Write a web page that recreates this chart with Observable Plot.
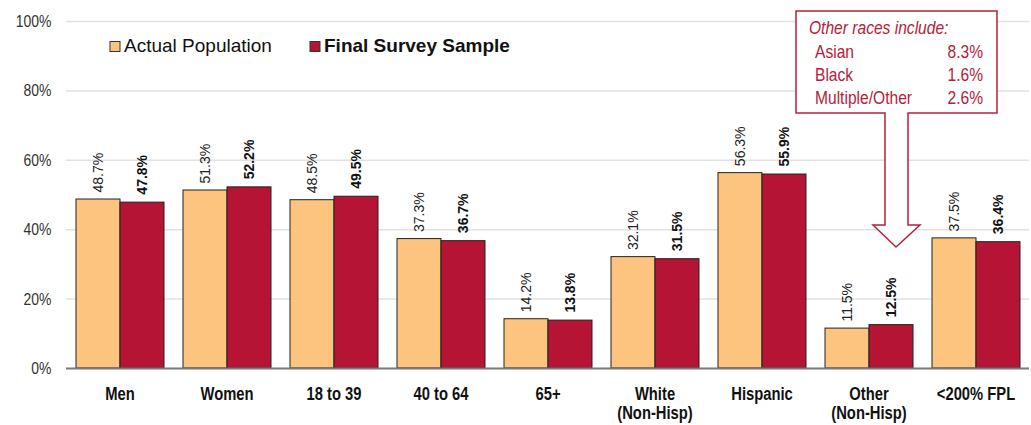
<!DOCTYPE html>
<html><head><meta charset="utf-8">
<script src="https://cdn.jsdelivr.net/npm/d3@7"></script>
<script src="https://cdn.jsdelivr.net/npm/@observablehq/plot@0.6"></script>
<style>
body{margin:0;background:#fff;}
#wrap{position:relative;width:1031px;height:425px;}
#overlay{position:absolute;left:0;top:0;pointer-events:none;}
</style></head>
<body><div id="wrap"></div>
<script>
const categories = ["Men","Women","18 to 39","40 to 64","65+","White\n(Non-Hisp)","Hispanic","Other\n(Non-Hisp)","<200% FPL"];
const series = ["Actual Population","Final Survey Sample"];
const actualPopulation = [48.7,51.3,48.5,37.3,14.2,32.1,56.3,11.5,37.5];
const finalSurveySample = [47.8,52.2,49.5,36.7,13.8,31.5,55.9,12.5,36.4];
const yTicks = [0,0.2,0.4,0.6,0.8,1];
const otherRaces = ["Asian","Black","Multiple/Other"];
const otherRaceShares = [8.3,1.6,2.6];
const colors = ["#fcc47f","#b51434"];

const rows = categories.flatMap((c,i)=>[
  {cat:c, series:series[0], value:actualPopulation[i]/100},
  {cat:c, series:series[1], value:finalSurveySample[i]/100}
]);

const SANS = '"Liberation Sans",Arial,sans-serif';
const NARROW = '"Liberation Sans Narrow","Arial Narrow","Liberation Sans",Arial,sans-serif';
const NARROW_SCALE = 0.82; // emulate Arial Narrow by condensing Liberation Sans glyphs
const pct = d => (d.value*100).toFixed(1)+"%";

const chart = Plot.plot({
  width:1031, height:425, marginLeft:64, marginRight:0, marginTop:21, marginBottom:57,
  fx:{domain:categories, padding:0, label:null},
  x:{domain:series, paddingInner:0, paddingOuter:0.207, axis:null},
  y:{domain:[0,1], label:null},
  color:{domain:series, range:colors},
  style:{fontFamily:NARROW, background:"#fff", color:"#222", overflow:"visible"},
  marks:[
    Plot.gridY(yTicks,{stroke:"#e2e2e2", strokeOpacity:1, strokeWidth:1.5}),
    Plot.axisY(yTicks,{tickSize:0, tickPadding:15, tickFormat:d=>Math.round(d*100)+"%", fontSize:17, fill:"#333", label:null}),
    Plot.barY(rows,{fx:"cat", x:"series", y:"value", fill:"series", stroke:"#222", strokeWidth:1}),
    Plot.ruleY([0],{stroke:"#7a7a7a", strokeWidth:2}),
    Plot.text(rows,{filter:d=>d.series===series[0], fx:"cat", x:"series", y:"value", text:pct, rotate:-90, textAnchor:"start", dy:-7, fontSize:14, fill:"#222"}),
    Plot.text(rows,{filter:d=>d.series===series[1], fx:"cat", x:"series", y:"value", text:pct, rotate:-90, textAnchor:"start", dy:-8, fontSize:14, fontWeight:"bold", fill:"#111"}),
    Plot.axisFx({anchor:"bottom", tickSize:0, tickPadding:17, fontSize:18, fontWeight:"bold", label:null, lineHeight:1.1, fill:"#111"})
  ]
});
const wrap = document.getElementById("wrap");
wrap.appendChild(chart);

// Overlay: legend and callout annotation
const ov = d3.select(wrap).append("svg").attr("id","overlay").attr("width",1031).attr("height",425);
const legendItems = [
  {label:series[0], color:colors[0], x:110, weight:"normal"},
  {label:series[1], color:colors[1], x:310, weight:"bold"}
];
legendItems.forEach(it=>{
  ov.append("rect").attr("x",it.x).attr("y",41.5).attr("width",10).attr("height",10)
    .attr("fill",it.color).attr("stroke","#333").attr("stroke-width",1);
  ov.append("text").attr("x",it.x+14).attr("y",52).text(it.label)
    .attr("font-family",SANS).attr("font-size",19)
    .attr("font-weight",it.weight).attr("fill","#111");
});
const red = "#b5213a";
ov.append("path")
  .attr("d","M796,11 H997 V113 H908 V225 H920 L896,247 L873,225 H885 V113 H796 Z")
  .attr("fill","#fff").attr("stroke",red).attr("stroke-width",1.5);
const calloutText = [];
calloutText.push(ov.append("text").attr("x",809).attr("y",34).text("Other races include:")
  .attr("font-style","italic"));
otherRaces.forEach((r,i)=>{
  const y = 57.5 + i*23.3;
  calloutText.push(ov.append("text").attr("x",815).attr("y",y).text(r));
  calloutText.push(ov.append("text").attr("x",983).attr("y",y).attr("text-anchor","end").text(otherRaceShares[i].toFixed(1)+"%"));
});
calloutText.forEach(t=>t.attr("font-family",SANS).attr("font-size",19).attr("fill",red).classed("narrow",true));

// condense glyphs via textLength (narrow-font emulation) for horizontal texts only
function condenseEl(el){
  const L = el.getComputedTextLength();
  if (L > 0) {
    el.setAttribute("textLength", (L*NARROW_SCALE).toFixed(2));
    el.setAttribute("lengthAdjust", "spacingAndGlyphs");
  }
}
d3.select(chart).selectAll("text").each(function(){
  if ((this.getAttribute("transform") || "").includes("rotate")) return;
  const spans = this.querySelectorAll("tspan");
  if (spans.length) spans.forEach(condenseEl); else condenseEl(this);
});
ov.selectAll("text.narrow").each(function(){ condenseEl(this); });
</script>
</body></html>
